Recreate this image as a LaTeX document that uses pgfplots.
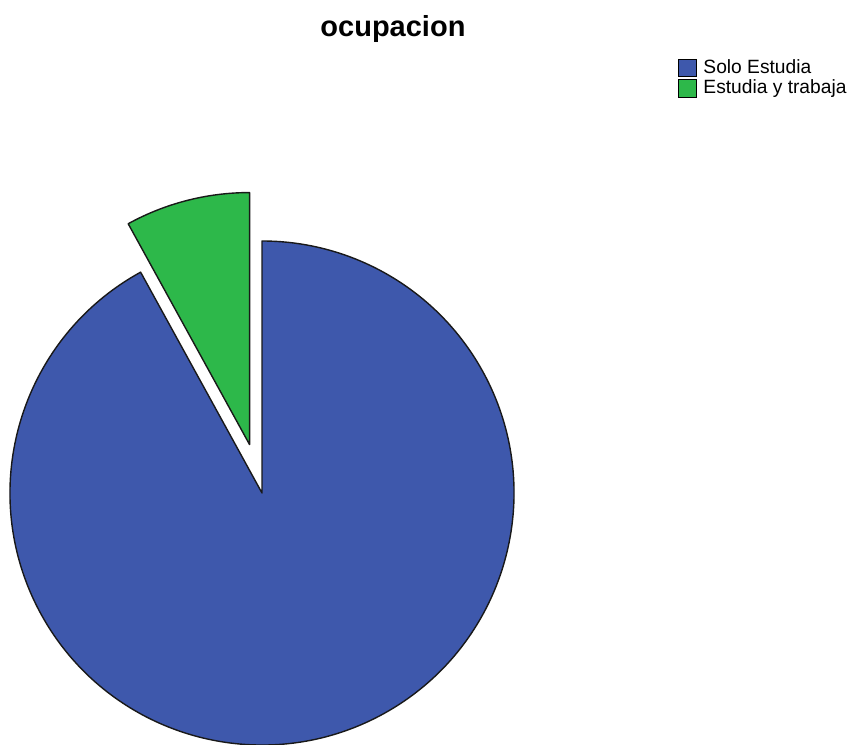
\documentclass[border=0pt]{standalone}
\usepackage{pgfplots}
\usepackage{pgfplotstable}
\pgfplotsset{compat=1.18}
\usepackage{fontspec}
\setmainfont{Liberation Sans}
\definecolor{soloblue}{HTML}{3E58AC}
\definecolor{trabgreen}{HTML}{2DB84A}
\pgfplotstableread{
Category Value
{Solo Estudia} 92
{Estudia y trabaja} 8
}\pietable
\pgfplotstablegetelem{0}{Value}\of\pietable
\let\valA\pgfplotsretval
\pgfplotstablegetelem{1}{Value}\of\pietable
\let\valB\pgfplotsretval
\pgfmathsetmacro{\totalv}{\valA+\valB}
\pgfmathsetmacro{\angB}{\valB/\totalv*360}
\pgfmathsetmacro{\endB}{90+\angB}
\pgfmathsetmacro{\midB}{90+\angB/2}
\begin{document}
\begin{tikzpicture}
\begin{axis}[
  name=ax,
  scale only axis, width=426.5pt, height=372.5pt,
  xmin=0, xmax=853, ymin=0, ymax=745,
  hide axis, clip=false,
  title={ocupacion},
  title style={at={(rel axis cs:0.4607,0.9448)}, anchor=center, font=\bfseries\fontsize{14.5}{17}\selectfont},
  legend style={at={(rel axis cs:0.7948,0.922)}, anchor=north west, draw=none, fill=none,
    font=\fontsize{9.6}{10.5}\selectfont, inner sep=0pt, row sep=0.5pt,
    nodes={inner sep=0.6pt}},
  legend cell align=left,
  legend image code/.code={\draw[#1, line width=0.55pt] (0pt,-4.3pt) rectangle (8.6pt,4.3pt);},
  /tikz/every odd column/.append style={column sep=2.8pt},
]
\addlegendimage{fill=soloblue, draw=black}
\addlegendentry{Solo Estudia}
\addlegendimage{fill=trabgreen, draw=black}
\addlegendentry{Estudia y trabaja}
% blue sector
\filldraw[fill=soloblue, draw=black!90, line width=0.7pt, line join=round]
  (axis cs:262,252) -- ++(\endB:126pt) arc[start angle=\endB, end angle=450, radius=126pt] -- cycle;
% green exploded sector
\filldraw[fill=trabgreen, draw=black!90, line width=0.7pt, line join=round]
  (axis cs:262,252) ++(\midB:25pt) -- ++(90:126pt) arc[start angle=90, end angle=\endB, radius=126pt] -- cycle;
\end{axis}
\pgfresetboundingbox
\path (ax.south west) rectangle (ax.north east);
\end{tikzpicture}
\end{document}
